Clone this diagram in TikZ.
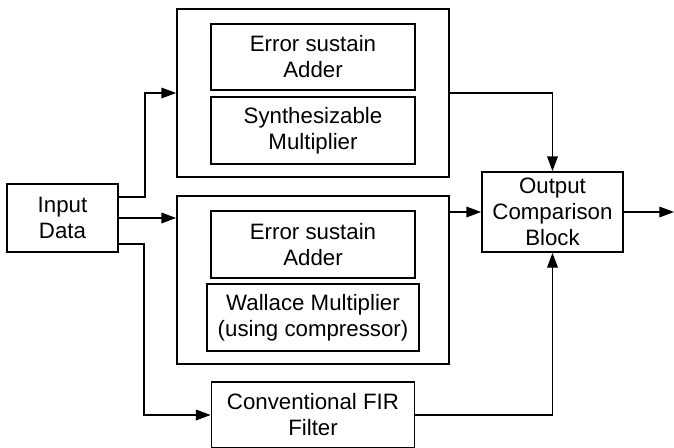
\documentclass[tikz,border=0pt]{standalone}
\usepackage{fontspec}
\setmainfont{Liberation Sans}
\usetikzlibrary{arrows.meta,calc}
\begin{document}
\begin{tikzpicture}[x=0.75pt,y=-0.75pt,
    blk/.style={draw, line width=1.4pt, align=center, inner sep=0pt,
        font=\fontsize{16.7}{19.5}\selectfont},
    arr/.style={line width=0.9pt, -{Triangle[length=11pt,width=8pt]}}]
\useasboundingbox (0,0) rectangle (674,447);
% main blocks
\node[blk, minimum width=111*0.75pt, minimum height=68*0.75pt] (input) at (62.5,218) {Input\\Data};
\node[blk, minimum width=272*0.75pt, minimum height=168*0.75pt] (synth) at (313,93) {};
\node[blk, minimum width=272*0.75pt, minimum height=168*0.75pt] (wall) at (313,280) {};
\node[blk, minimum width=203*0.75pt, minimum height=66*0.75pt] (fir) at (313,415) {Conventional FIR\\Filter};
\node[blk, minimum width=141*0.75pt, minimum height=80*0.75pt] (output) at (552.5,212) {Output\\Comparison\\Block};
% inner blocks
\node[blk, minimum width=204*0.75pt, minimum height=66*0.75pt] (adderA) at (313,57) {Error sustain\\Adder};
\node[blk, minimum width=204*0.75pt, minimum height=67*0.75pt] (multA) at (313,130.5) {Synthesizable\\Multiplier};
\node[blk, minimum width=204*0.75pt, minimum height=67*0.75pt] (adderB) at (313,244.5) {Error sustain\\Adder};
\node[blk, minimum width=212*0.75pt, minimum height=67*0.75pt] (multB) at (313,317.5) {Wallace Multiplier\\(using compressor)};
\coordinate (out) at (674,212);
% connectors
\draw[arr] ($(input.east)+(0,-21)$) -- ++(26,0) |- (synth.west);
\draw[arr] (input.east) -- (input.east -| wall.west);
\draw[arr] ($(input.east)+(0,26)$) -- ++(25,0) |- (fir.west);
\draw[arr] (synth.east) -| (output.north);
\draw[arr] (wall.east |- output.west) -- (output.west);
\draw[arr] (fir.east) -| (output.south);
\draw[arr] (output.east) -- (out);
\end{tikzpicture}
\end{document}
